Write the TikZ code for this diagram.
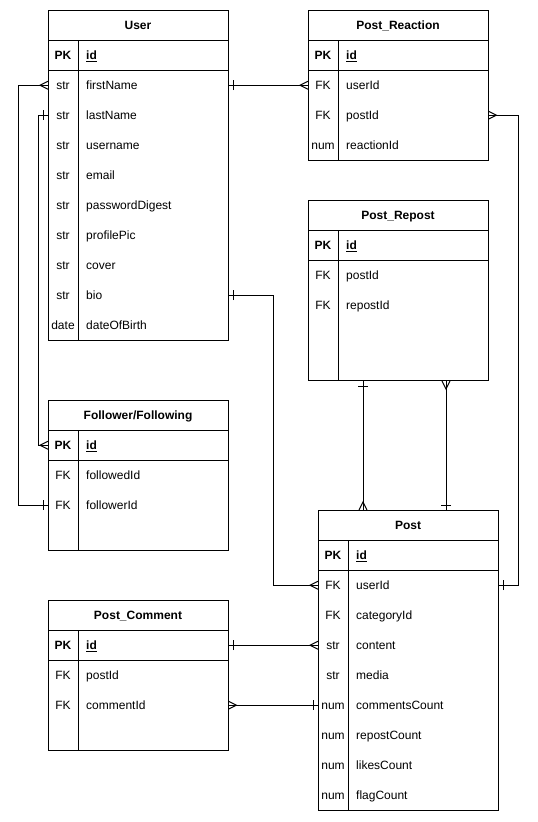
\documentclass[tikz,border=0pt]{standalone}
\usepackage{fontspec}
\setmainfont{Liberation Sans}
\usetikzlibrary{calc}

% crow's foot ("many") end mark: prongs open towards the entity
\pgfdeclarearrow{
  name = crow,
  setup code = {
    \pgfarrowssettipend{0pt}
    \pgfarrowssetlineend{0pt}
    \pgfarrowssetbackend{-8pt}
    \pgfarrowshullpoint{0pt}{4pt}
    \pgfarrowshullpoint{0pt}{-4pt}
    \pgfarrowshullpoint{-8pt}{0pt}
  },
  drawing code = {
    \pgfsetdash{}{0pt}
    \pgfpathmoveto{\pgfpoint{0pt}{4pt}}
    \pgfpathlineto{\pgfpoint{-8pt}{0pt}}
    \pgfpathlineto{\pgfpoint{0pt}{-4pt}}
    \pgfusepathqstroke
  },
}

% single bar ("one") end mark, set back from the entity edge
\pgfdeclarearrow{
  name = one,
  setup code = {
    \pgfarrowssettipend{0pt}
    \pgfarrowssetlineend{0pt}
    \pgfarrowssetbackend{-5pt}
    \pgfarrowshullpoint{0pt}{5pt}
    \pgfarrowshullpoint{0pt}{-5pt}
    \pgfarrowshullpoint{-5pt}{5pt}
    \pgfarrowshullpoint{-5pt}{-5pt}
  },
  drawing code = {
    \pgfsetdash{}{0pt}
    \pgfpathmoveto{\pgfpoint{-5pt}{5pt}}
    \pgfpathlineto{\pgfpoint{-5pt}{-5pt}}
    \pgfusepathqstroke
  },
}

\tikzset{
  tframe/.style={draw, line width=1pt, minimum width=180pt, inner sep=0pt, anchor=north west},
  tline/.style={line width=1pt},
  rowbox/.style={minimum width=180pt, minimum height=30pt, inner sep=0pt, anchor=north west},
  ttitle/.style={font=\bfseries, anchor=base, inner sep=0pt},
  keytxt/.style={anchor=base, inner sep=0pt},
  fldtxt/.style={anchor=base west, inner sep=0pt},
  conn/.style={line width=1pt},
}

% entity table: name, x, y, height, title, list of key/field rows after the PK row
\newcommand{\ertable}[6]{%
  \node[tframe, minimum height=#4pt] (#1) at (#2,#3) {};
  \node[ttitle] (#1-t) at ({#2+90},{#3+19.3}) {#5};
  \draw[tline] (#2,{#3+30}) -- ({#2+180},{#3+30});
  \draw[tline] (#2,{#3+60}) -- ({#2+180},{#3+60});
  \draw[tline] ({#2+30},{#3+30}) -- ({#2+30},{#3+#4});
  \node[rowbox] (#1-0) at (#2,{#3+30}) {};
  \node[keytxt, font=\bfseries] (#1-k0) at ({#2+15},{#3+49.3}) {PK};
  \node[fldtxt, font=\bfseries] (#1-f0) at ({#2+38},{#3+49.3}) {\underline{id}};
  \foreach \k/\f [count=\i] in {#6} {
    \node[rowbox] (#1-\i) at (#2,{#3+30+30*\i}) {};
    \node[keytxt] (#1-k\i) at ({#2+15},{#3+49.3+30*\i}) {\k};
    \node[fldtxt] (#1-f\i) at ({#2+38},{#3+49.3+30*\i}) {\f};
  }%
}

\begin{document}
\fontsize{12}{14}\selectfont
\begin{tikzpicture}[x=1pt, y=-1pt]
  \fill[white] (0,0) rectangle (538,822);
  \useasboundingbox (0,0) rectangle (538,822);

  \ertable{user}{48}{10}{330}{User}{str/firstName, str/lastName, str/username, str/email, str/passwordDigest, str/profilePic, str/cover, str/bio, date/dateOfBirth}
  \ertable{react}{308}{10}{150}{Post\_Reaction}{FK/userId, FK/postId, num/reactionId}
  \ertable{rep}{308}{200}{180}{Post\_Repost}{FK/postId, FK/repostId}
  \ertable{fol}{48}{400}{150}{Follower/Following}{FK/followedId, FK/followerId}
  \ertable{post}{318}{510}{300}{Post}{FK/userId, FK/categoryId, str/content, str/media, num/commentsCount, num/repostCount, num/likesCount, num/flagCount}
  \ertable{pc}{48}{600}{150}{Post\_Comment}{FK/postId, FK/commentId}

  % relationships
  \draw[conn, {crow}-{one}] (user-1.west) -- ++(-30,0) |- (fol-2.west);
  \draw[conn, {one}-{crow}] (user-2.west) -- ++(-10,0) |- (fol-0.west);
  \draw[conn, {one}-{crow}] (user-1.east) -- (react-1.west);
  \draw[conn, {crow}-{one}] (react-2.east) -- ++(30,0) |- (post-1.east);
  \draw[conn, {one}-{crow}] (user-8.east) -- ++(45,0) |- (post-1.west);
  \draw[conn, {one}-{crow}] ($(rep.south west)+(55,0)$) -- ($(post.north west)+(45,0)$);
  \draw[conn, {crow}-{one}] ($(rep.south west)+(138,0)$) -- ($(post.north west)+(128,0)$);
  \draw[conn, {one}-{crow}] (pc-0.east) -- (post-3.west);
  \draw[conn, {crow}-{one}] (pc-2.east) -- (post-5.west);
\end{tikzpicture}
\end{document}
